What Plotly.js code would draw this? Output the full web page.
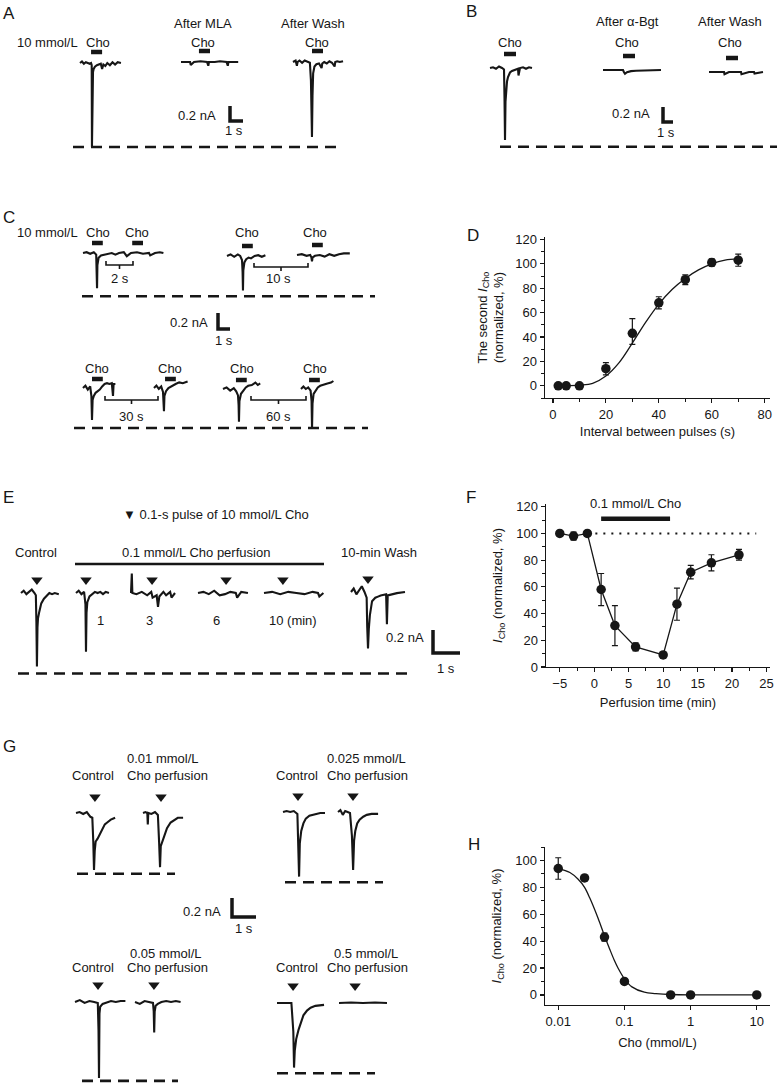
<!DOCTYPE html>
<html><head><meta charset="utf-8">
<script src="https://cdn.plot.ly/plotly-3.0.1.min.js"></script>
<style>html,body{margin:0;padding:0;background:#fff}#plot{width:781px;height:1086px}</style>
</head><body><div id="plot"></div>
<script>
// ================= DATA =================
// Panel D: paired-pulse recovery
const D_interval = [2, 5, 10, 20, 30, 40, 50, 60, 70];
const D_second   = [0, 0, 0, 14, 43, 68, 87, 101, 103];
const D_errUp    = [1, 1, 1, 5, 12, 5, 4, 3, 5];
const D_errDn    = [1, 1, 1, 5, 9, 5, 4, 3, 5];
const D_fitX     = [2, 5, 10, 15, 20, 25, 30, 35, 40, 45, 50, 55, 60, 65, 70];
const D_fitY     = [0, 0, 0.5, 2, 8, 19, 35, 52, 67, 79, 88, 95, 100, 103, 104];

// Panel F: desensitization by 0.1 mmol/L Cho
const F_time  = [-5, -3, -1, 1, 3, 6, 10, 12, 14, 17, 21];
const F_icho  = [100, 98, 100, 58, 31, 15, 9, 47, 71, 78, 84];
const F_err   = [1, 3, 1, 12, 15, 3, 2, 12, 5, 6, 4];
const F_perfusion = [1, 11];          // perfusion period (min)
const F_refLine = [-1, 23.5];          // 100 % reference span

// Panel H: concentration dependence
const H_conc = [0.01, 0.025, 0.05, 0.1, 0.5, 1, 10];
const H_icho = [94, 87, 43, 10, 0, 0, 0];
const H_err  = [8, 1, 3, 2, 1, 1, 1];
const H_fitX = [0.01, 0.015, 0.02, 0.025, 0.03, 0.04, 0.05, 0.06, 0.07, 0.08, 0.1, 0.13, 0.2, 0.3, 0.5, 1, 2, 5, 10];
const H_fitY = [94, 91, 86, 80, 72, 57, 44, 34, 26, 20, 12, 6, 2, 1, 0.3, 0, 0, 0, 0];
const H_tickVals = [0.01, 0.1, 1, 10];
const H_tickText = ['0.01', '0.1', '1', '10'];

// Current traces: time (s) from sweep start, current (nA) from baseline
const A_ctrl_t = [0,0.15,0.3,0.45,0.6,0.75,0.85,0.9,0.92,0.94,1.0,1.05,1.15,1.3,1.45,1.6,1.7,1.8,1.95,2.1,2.3,2.5,2.7,2.9,3.15];
const A_ctrl_i = [0,0.02,-0.01,0.01,0,-0.01,0,-0.03,-1.12,-0.25,-0.12,-0.08,-0.05,-0.03,-0.02,-0.01,-0.08,-0.02,-0.04,0,-0.03,0.01,-0.02,0.01,0];
const A_mla_t  = [0,0.5,0.7,0.75,1.0,1.5,2.0,2.1,2.15,2.6,3.0,3.5,3.6,3.65,4.0,4.4];
const A_mla_i  = [0,0,0,-0.04,0,0.01,0,-0.05,0,0,0.01,0,-0.05,0,0,0];
const A_wash_t = [0,0.2,0.3,0.35,0.5,0.7,0.9,1.1,1.3,1.38,1.42,1.46,1.5,1.55,1.65,1.8,2.0,2.2,2.25,2.4,2.6,2.8,3.0,3.2,3.25,3.4,3.6,3.85];
const A_wash_i = [0,0.02,-0.05,0,0.02,-0.01,0.02,0,-0.01,-0.25,-0.47,-1.0,-0.45,-0.15,-0.06,-0.03,-0.02,-0.08,-0.02,0,-0.02,0.01,-0.01,-0.06,0,0.01,0,0.01];
const A_pulse  = [0.85, 1.38, 1.46];

const B_ctrl_t = [0,0.3,0.6,0.9,1.2,1.4,1.45,1.5,1.55,1.6,1.7,1.8,1.9,2.0,2.2,2.4,2.6,2.8,2.85,3.0,3.3,3.6,3.9,4.2];
const B_ctrl_i = [0,0.01,-0.01,0.02,0,-0.02,-0.4,-0.96,-0.45,-0.3,-0.18,-0.12,-0.08,-0.06,-0.04,-0.03,-0.02,-0.01,-0.1,0,0.01,-0.01,0.01,0];
const B_bgt_t  = [0,1,2,2.1,2.2,2.4,2.8,3.3,3.8,4.3,4.8,5.3,5.8];
const B_bgt_i  = [0,0,0,-0.03,-0.05,-0.03,-0.015,-0.01,-0.01,0,-0.01,0,0];
const B_wash_t = [0,1,1.5,1.55,2,3,3.2,3.25,4,4.5,4.55,5.4];
const B_wash_i = [0,0,0,-0.03,0,0,0,-0.03,0,0,-0.02,0];
const B_pulse  = [1.4, 2.0, 1.7];

const C2_t  = [0,0.3,0.6,0.9,1.1,1.15,1.17,1.2,1.3,1.5,1.8,2.1,2.4,2.7,3.0,3.4,3.6,3.65,4.0,4.5,5.0,5.5,5.6,6.0,6.4,6.7];
const C2_i  = [0,0.01,-0.01,0.01,-0.02,-0.2,-0.44,-0.15,-0.06,-0.03,-0.02,-0.01,0,-0.02,0,0.01,-0.02,-0.04,0,0.01,-0.01,0,-0.03,0,0.01,0];
const C10a_t = [0,0.3,0.6,0.9,1.1,1.25,1.3,1.33,1.36,1.45,1.6,1.8,2.0,2.3,2.6,2.9,3.2];
const C10a_i = [0,0.02,-0.01,0.02,0,-0.05,-0.2,-0.43,-0.18,-0.08,-0.04,-0.02,-0.03,0,0.01,-0.01,0.01];
const C10b_t = [0,0.4,0.8,1.1,1.2,1.25,1.3,1.5,1.9,2.3,2.7,3.1,3.5,3.9,4.4];
const C10b_i = [0,0.01,-0.01,0,-0.03,-0.08,-0.03,-0.01,0,-0.02,0.01,-0.01,0.01,0.02,0.02];
const C30a_t = [0,0.2,0.4,0.6,0.7,0.75,0.8,0.9,1.05,1.2,1.4,1.6,1.8,2.0,2.2,2.4,2.5,2.55,2.7];
const C30a_i = [0,0.03,-0.02,0.02,-0.1,-0.4,-0.15,-0.1,-0.06,-0.04,-0.02,0.02,0.05,0.06,0.05,0.06,-0.1,0.05,0.05];
const C30b_t = [0,0.2,0.4,0.6,0.75,0.8,0.83,0.87,1.0,1.2,1.5,1.8,2.1,2.4,2.8];
const C30b_i = [0,0.03,-0.01,0.02,-0.05,-0.15,-0.29,-0.1,-0.04,0,0.03,0.05,0.07,0.06,0.08];
const C60a_t = [0,0.3,0.6,0.9,1.1,1.25,1.3,1.33,1.37,1.5,1.7,1.9,2.1,2.4,2.7,2.9,3.1];
const C60a_i = [0,0.02,-0.02,0.01,-0.03,-0.08,-0.2,-0.41,-0.15,-0.06,-0.02,0.02,0.04,0.05,0.08,0.05,0.07];
const C60b_t = [0,0.2,0.4,0.6,0.8,0.88,0.92,0.96,1.05,1.2,1.4,1.6,1.9,2.2,2.5,2.7];
const C60b_i = [0,0.03,0,0.02,-0.02,-0.15,-0.49,-0.18,-0.06,-0.02,0.02,0.04,0.06,0.07,0.08,0.1];
const C_pulse = [0.75, 4.1, 1.25, 1.25, 0.75, 0.92, 1.08, 0.67];

const E_ctrl_t = [0,0.1,0.2,0.3,0.4,0.5,0.55,0.57,0.59,0.61,0.63,0.68,0.75,0.85,0.95,1.05,1.15,1.25,1.4];
const E_ctrl_i = [0,0.02,-0.01,0.01,0.03,0,-0.02,-0.25,-0.64,-0.3,-0.22,-0.16,-0.09,-0.05,-0.02,0,-0.01,0,-0.01];
const E_1_t = [0,0.1,0.2,0.3,0.35,0.37,0.39,0.42,0.5,0.6,0.7,0.8,0.9,1.0,1.1,1.22];
const E_1_i = [0,0.02,-0.01,0.01,-0.1,-0.51,-0.17,-0.08,-0.03,-0.01,0.01,0,0.01,-0.01,0.01,0];
const E_3_t = [0,0.02,0.03,0.05,0.2,0.4,0.6,0.75,0.8,0.95,1.0,1.05,1.2,1.3,1.45,1.5,1.63];
const E_3_i = [0,0.17,0.17,0,-0.01,0.01,-0.02,0.01,-0.04,-0.02,-0.12,-0.03,0.01,-0.02,0.01,-0.04,0];
const E_6_t = [0,0.2,0.4,0.6,0.8,1.0,1.2,1.4,1.45,1.6,1.85];
const E_6_i = [0,0.01,-0.01,0.02,-0.02,-0.01,0.01,0,-0.04,0.01,0];
const E_10_t = [0,0.3,0.6,0.9,1.2,1.5,1.8,2.0,2.05,2.2];
const E_10_i = [0,0.01,-0.01,0.01,0,-0.01,0.01,0,-0.03,0];
const E_wash_t = [0,0.1,0.2,0.3,0.4,0.5,0.58,0.6,0.63,0.66,0.7,0.78,0.9,1.0,1.1,1.3,1.33,1.36,1.5,1.7,2.0];
const E_wash_i = [0,0.03,-0.02,0.02,0.05,0,-0.05,-0.3,-0.49,-0.32,-0.2,-0.08,-0.05,-0.04,-0.03,-0.02,-0.28,-0.03,-0.02,-0.01,0];
const E_pulse = [0.59, 0.37, 0.78, 1.04, 0.70, 0.63];
const E_minutes = ['1', '3', '6', '10 (min)'];

const G1c_t = [0,0.15,0.3,0.45,0.6,0.68,0.72,0.75,0.78,0.82,0.9,1.0,1.1,1.2,1.3,1.45,1.63];
const G1c_i = [0,0.01,-0.01,0.01,-0.04,-0.05,-0.3,-0.6,-0.4,-0.3,-0.27,-0.22,-0.16,-0.12,-0.1,-0.07,-0.05];
const G1p_t = [0,0.1,0.18,0.2,0.22,0.35,0.5,0.62,0.67,0.71,0.74,0.8,0.9,1.0,1.15,1.3,1.45,1.67];
const G1p_i = [0,0.01,0,-0.12,0,-0.01,0.01,-0.02,-0.3,-0.57,-0.35,-0.3,-0.23,-0.16,-0.1,-0.07,-0.05,-0.05];
const G2c_t = [0,0.15,0.3,0.45,0.6,0.64,0.67,0.7,0.76,0.85,0.95,1.1,1.25,1.4,1.55,1.75];
const G2c_i = [0,0.01,0,0.01,-0.02,-0.3,-0.68,-0.33,-0.2,-0.12,-0.07,-0.04,-0.03,-0.02,-0.01,-0.01];
const G2p_t = [0,0.1,0.2,0.3,0.4,0.5,0.58,0.63,0.67,0.72,0.8,0.9,1.05,1.2,1.4,1.67];
const G2p_i = [0,0.02,-0.03,0.01,0,-0.01,-0.25,-0.61,-0.3,-0.2,-0.12,-0.08,-0.05,-0.03,-0.02,-0.02];
const G3c_t = [0,0.2,0.4,0.6,0.8,0.95,0.98,1.0,1.02,1.05,1.15,1.3,1.5,1.7,1.9,2.1];
const G3c_i = [0,0.02,-0.01,0.01,0,-0.01,-0.3,-0.8,-0.12,-0.05,-0.02,-0.01,0.01,0,0.01,0.01];
const G3p_t = [0,0.2,0.4,0.6,0.75,0.78,0.8,0.82,0.86,0.95,1.1,1.3,1.5,1.7,1.9];
const G3p_i = [0,-0.02,0.01,0,-0.01,-0.1,-0.32,-0.1,-0.04,-0.02,0,0.01,0,0.01,0];
const G4c_t = [0,0.2,0.4,0.6,0.68,0.71,0.74,0.8,0.9,1.0,1.1,1.25,1.4,1.6,1.8,1.96];
const G4c_i = [0,0,0,0,-0.3,-0.68,-0.5,-0.38,-0.28,-0.2,-0.13,-0.08,-0.05,-0.03,-0.02,-0.02];
const G4p_t = [0,0.5,1.0,1.5,2.0];
const G4p_i = [0,0.005,0,0.005,0];
const G_pulse = [0.79, 0.75, 0.625, 0.625, 0.96, 0.79, 0.67, 0.67];
const G_conc = ['0.01 mmol/L', '0.025 mmol/L', '0.05 mmol/L', '0.5 mmol/L'];

// control-peak reference levels (nA) drawn as dashed lines
const refLevel = {A: 1.12, B: 1.05, C1: 0.54, C2: 0.5, E: 0.7, G1: 0.64, G2: 0.74, G3: 0.83, G4: 0.74};
const scaleBar = {nA: 0.2, s: 1};

// ================= BUILD =================
const W = 781, H = 1086;
const FONT = 'Liberation Sans, Arial, Helvetica, sans-serif';
const INK = '#161616';
const traces = [];
const annotations = [];
const layout = {
  width: W, height: H, margin: {l: 0, r: 0, t: 0, b: 0},
  paper_bgcolor: '#ffffff', plot_bgcolor: 'rgba(0,0,0,0)', showlegend: false,
  font: {family: FONT, size: 13, color: INK}, annotations: annotations
};

function txt(s, x, y, o) {
  o = o || {};
  annotations.push({text: s, x: x / W, y: 1 - y / H, xref: 'paper', yref: 'paper', showarrow: false,
    xanchor: o.xa || 'center', yanchor: 'middle', textangle: o.angle || 0,
    font: {family: FONT, size: o.size || 13, color: INK}});
}

// ---- data charts ----
const axBase = {showline: true, linecolor: INK, linewidth: 1.4, ticks: 'outside', ticklen: 4, tickwidth: 1.2,
  tickcolor: INK, showgrid: false, zeroline: false, tickfont: {family: FONT, size: 13, color: INK}, fixedrange: true};
const minorT = (d) => ({ticks: 'outside', dtick: d, ticklen: 2.5, tickwidth: 1, tickcolor: INK, showgrid: false});
const ytitle = '<i>I</i><sub>Cho</sub> (normalized, %)';

layout.xaxis = Object.assign({}, axBase, {domain: [545 / W, 770 / W], range: [-3, 82], tick0: 0, dtick: 20, minor: minorT(10), anchor: 'y',
  title: {text: 'Interval between pulses (s)', font: {size: 13}, standoff: 6}});
layout.yaxis = Object.assign({}, axBase, {domain: [1 - 398 / H, 1 - 237 / H], range: [-10, 122], tick0: 0, dtick: 20, minor: minorT(10), anchor: 'x',
  title: {text: 'The second <i>I</i><sub>Cho</sub><br>(normalized, %)', font: {size: 13}, standoff: 8}});
layout.xaxis2 = Object.assign({}, axBase, {domain: [546 / W, 770 / W], range: [-7, 25.5], tick0: 0, dtick: 5, minor: minorT(2.5), anchor: 'y2',
  title: {text: 'Perfusion time (min)', font: {size: 13}, standoff: 8}});
layout.yaxis2 = Object.assign({}, axBase, {domain: [1 - 667 / H, 1 - 504 / H], range: [0, 122], tick0: 0, dtick: 20, minor: minorT(10), anchor: 'x2',
  title: {text: ytitle, font: {size: 13}, standoff: 10}});
layout.xaxis3 = Object.assign({}, axBase, {type: 'log', domain: [545 / W, 770 / W], range: [-2.2, 1.2], tickvals: H_tickVals, ticktext: H_tickText, anchor: 'y3',
  title: {text: 'Cho (mmol/L)', font: {size: 13}, standoff: 10}});
layout.yaxis3 = Object.assign({}, axBase, {domain: [1 - 1005 / H, 1 - 847 / H], range: [-7.5, 110], tick0: 0, dtick: 20, minor: minorT(10), anchor: 'x3',
  title: {text: ytitle, font: {size: 13}, standoff: 10}});

const mk = {color: INK, size: 9.5, symbol: 'circle'};
const eb = (up, dn) => ({type: 'data', symmetric: !dn, array: up, arrayminus: dn, thickness: 1.2, width: 3, color: INK});
// D
traces.push({x: D_fitX, y: D_fitY, mode: 'lines', line: {color: INK, width: 1.3, shape: 'spline'}, xaxis: 'x', yaxis: 'y', hoverinfo: 'skip'});
traces.push({x: D_interval, y: D_second, mode: 'markers', marker: mk, error_y: eb(D_errUp, D_errDn), xaxis: 'x', yaxis: 'y', cliponaxis: false});
// F
traces.push({x: F_refLine, y: [100, 100], mode: 'lines', line: {color: INK, width: 2, dash: '2px,6px'}, xaxis: 'x2', yaxis: 'y2', hoverinfo: 'skip'});
traces.push({x: F_perfusion, y: [111, 111], mode: 'lines', line: {color: INK, width: 4.5}, xaxis: 'x2', yaxis: 'y2', cliponaxis: false, hoverinfo: 'skip'});
traces.push({x: F_time, y: F_icho, mode: 'lines+markers', line: {color: INK, width: 1.3}, marker: mk, error_y: eb(F_err), xaxis: 'x2', yaxis: 'y2', cliponaxis: false});
// H
traces.push({x: H_fitX, y: H_fitY, mode: 'lines', line: {color: INK, width: 1.3, shape: 'spline'}, xaxis: 'x3', yaxis: 'y3', hoverinfo: 'skip'});
traces.push({x: H_conc, y: H_icho, mode: 'markers', marker: mk, error_y: eb(H_err), xaxis: 'x3', yaxis: 'y3', cliponaxis: false});

// ---- recording panels: invisible full-page axes in s / nA ----
let axN = 3;
function panel(sx, sy) {
  axN++;
  layout['xaxis' + axN] = {domain: [0, 1], range: [0, W / sx], visible: false, fixedrange: true, anchor: 'y' + axN};
  layout['yaxis' + axN] = {domain: [0, 1], range: [-H / sy, 0], visible: false, fixedrange: true, anchor: 'x' + axN};
  return {xa: 'x' + axN, ya: 'y' + axN, sx: sx, sy: sy};
}
function line(p, xs, ys, w, dash) {
  traces.push({x: xs, y: ys, xaxis: p.xa, yaxis: p.ya, mode: 'lines', cliponaxis: false, hoverinfo: 'skip',
    line: {color: INK, width: w, dash: dash || 'solid'}});
}
// place a sweep whose start / baseline is at pixel (px, py)
function sweep(p, t, i, px, py) {
  line(p, t.map(v => px / p.sx + v), i.map(v => -py / p.sy + v), 2.1);
}
function choBar(p, px, py, onset, dur, up) {
  line(p, [px / p.sx + onset, px / p.sx + onset + dur], [-(py - up) / p.sy, -(py - up) / p.sy], 4.5);
}
function tri(p, px, py, onset, up) {
  traces.push({x: [px / p.sx + onset], y: [-(py - up) / p.sy], xaxis: p.xa, yaxis: p.ya, mode: 'markers', cliponaxis: false,
    hoverinfo: 'skip', marker: {symbol: 'triangle-down', size: 10, color: INK}});
}
function dashRef(p, x0, x1, py, lvl) {
  const y = -py / p.sy - lvl;
  line(p, [x0 / p.sx, x1 / p.sx], [y, y], 2.6, '11px,7px');
}
function scaleL(p, px, py) {
  const x = px / p.sx, y = -py / p.sy;
  line(p, [x, x, x + scaleBar.s], [y + scaleBar.nA, y, y], 3.5);
}
function bracket(p, x0, x1, py) {
  const a = x0 / p.sx, b = x1 / p.sx, y = -py / p.sy, e = 4 / p.sy, m = (a + b) / 2;
  line(p, [a, a, b, b], [y + e, y, y, y + e], 1.6);
  line(p, [m, m], [y, y - e], 1.6);
}

// ---- Panel A ----
const pA = panel(13, 75);
const A_pos = [[80, 63], [181, 62], [293, 62]];
[[A_ctrl_t, A_ctrl_i], [A_mla_t, A_mla_i], [A_wash_t, A_wash_i]].forEach((s, k) => {
  sweep(pA, s[0], s[1], A_pos[k][0], A_pos[k][1]);
  choBar(pA, A_pos[k][0], A_pos[k][1], A_pulse[k], 0.85, 11);
});
dashRef(pA, 73, 337, 63, refLevel.A);
scaleL(pA, 230, 121);
txt('A', 9, 13, {size: 17});
txt('10 mmol/L', 47, 42); txt('Cho', 98, 42);
txt('After MLA', 203, 23); txt('Cho', 203, 42);
txt('After Wash', 313, 23); txt('Cho', 317, 42);
txt('0.2 nA', 218, 115, {xa: 'right'}); txt('1 s', 234, 130);

// ---- Panel B ----
const pB = panel(10, 75);
const B_pos = [[490, 68], [603, 70], [709, 72]];
[[B_ctrl_t, B_ctrl_i], [B_bgt_t, B_bgt_i], [B_wash_t, B_wash_i]].forEach((s, k) => {
  sweep(pB, s[0], s[1], B_pos[k][0], B_pos[k][1]);
  choBar(pB, B_pos[k][0], B_pos[k][1], B_pulse[k], 1.2, 14);
});
dashRef(pB, 500, 777, 68, refLevel.B);
scaleL(pB, 663, 122);
txt('B', 471, 12, {size: 17});
txt('Cho', 510, 42);
txt('After α-Bgt', 627, 22); txt('Cho', 627, 42);
txt('After Wash', 730, 22); txt('Cho', 730, 42);
txt('0.2 nA', 652, 113, {xa: 'right'}); txt('1 s', 666, 133);

// ---- Panel C ----
const pC = panel(12, 80);
const C_sw = [[C2_t, C2_i, 83, 253], [C10a_t, C10a_i, 227, 256], [C10b_t, C10b_i, 297, 255],
  [C30a_t, C30a_i, 83, 388], [C30b_t, C30b_i, 154, 388], [C60a_t, C60a_i, 223, 389], [C60b_t, C60b_i, 301, 389]];
C_sw.forEach(s => sweep(pC, s[0], s[1], s[2], s[3]));
// Cho bars: sweep index for each pulse
const C_barSweep = [0, 0, 1, 2, 3, 4, 5, 6];
C_barSweep.forEach((k, j) => choBar(pC, C_sw[k][2], C_sw[k][3], C_pulse[j], 0.9, k < 3 ? 10 : 9));
dashRef(pC, 82, 375, 253, refLevel.C1);
dashRef(pC, 74, 368, 388, refLevel.C2);
bracket(pC, 106, 133, 265); bracket(pC, 254, 308, 267);
bracket(pC, 105, 158, 400); bracket(pC, 251, 306, 400);
scaleL(pC, 218, 329);
txt('C', 9, 217, {size: 17});
txt('10 mmol/L', 47, 233); txt('Cho', 98, 233); txt('Cho', 137, 233);
txt('Cho', 247, 233); txt('Cho', 315, 233);
txt('2 s', 120, 279); txt('10 s', 278, 279);
txt('0.2 nA', 210, 322, {xa: 'right'}); txt('1 s', 224, 341);
txt('Cho', 97, 368); txt('Cho', 170, 368); txt('Cho', 242, 368); txt('Cho', 315, 368);
txt('30 s', 131, 417); txt('60 s', 278, 417);

// ---- Panel E ----
const pE = panel(27, 115);
const E_sw = [[E_ctrl_t, E_ctrl_i, 21, 593], [E_1_t, E_1_i, 76, 593], [E_3_t, E_3_i, 131, 593],
  [E_6_t, E_6_i, 198, 593], [E_10_t, E_10_i, 264, 593], [E_wash_t, E_wash_i, 351, 592]];
E_sw.forEach((s, k) => { sweep(pE, s[0], s[1], s[2], s[3]); tri(pE, s[2], s[3], E_pulse[k], 13); });
line(pE, [75 / pE.sx, 324 / pE.sx], [-564 / pE.sy, -564 / pE.sy], 2.5);
dashRef(pE, 18, 410, 593, refLevel.E);
scaleL(pE, 433, 653);
txt('E', 8, 497, {size: 17});
txt('▼ 0.1-s pulse of 10 mmol/L Cho', 216, 514);
txt('Control', 36, 552); txt('0.1 mmol/L Cho perfusion', 196, 552); txt('10-min Wash', 379, 552);
[100, 149, 216, 293].forEach((x, k) => txt(E_minutes[k], x, 620));
txt('0.2 nA', 426, 637, {xa: 'right'}); txt('1 s', 446, 668);

// ---- Panel G ----
const pG = panel(24, 95);
const G_sw = [[G1c_t, G1c_i, 76, 813], [G1p_t, G1p_i, 143, 813], [G2c_t, G2c_i, 283, 812], [G2p_t, G2p_i, 338, 812],
  [G3c_t, G3c_i, 75, 1002], [G3p_t, G3p_i, 135, 1002], [G4c_t, G4c_i, 277, 1003], [G4p_t, G4p_i, 339, 1003]];
G_sw.forEach((s, k) => { sweep(pG, s[0], s[1], s[2], s[3]); tri(pG, s[2], s[3], G_pulse[k], k < 4 ? 16 : 17); });
dashRef(pG, 77, 175, 813, refLevel.G1);
dashRef(pG, 285, 383, 812, refLevel.G2);
dashRef(pG, 82, 178, 1002, refLevel.G3);
dashRef(pG, 277, 375, 1003, refLevel.G4);
scaleL(pG, 232, 917);
txt('G', 9, 746, {size: 17});
[[163, 758, 93, 167, 775], [366, 758, 297, 367, 775], [166, 953, 93, 167, 967], [366, 953, 297, 367, 967]].forEach((g, k) => {
  txt(G_conc[k], g[0], g[1]); txt('Control', g[2], g[4]); txt('Cho perfusion', g[3], g[4]);
});
txt('0.2 nA', 223, 911, {xa: 'right'}); txt('1 s', 244, 928);

// chart letters and labels
txt('D', 473, 235, {size: 17});
txt('F', 471, 497, {size: 17});
txt('H', 474, 844, {size: 17});
txt('0.1 mmol/L Cho', 635, 503);

Plotly.newPlot('plot', traces, layout, {staticPlot: true, displayModeBar: false});
</script></body></html>
